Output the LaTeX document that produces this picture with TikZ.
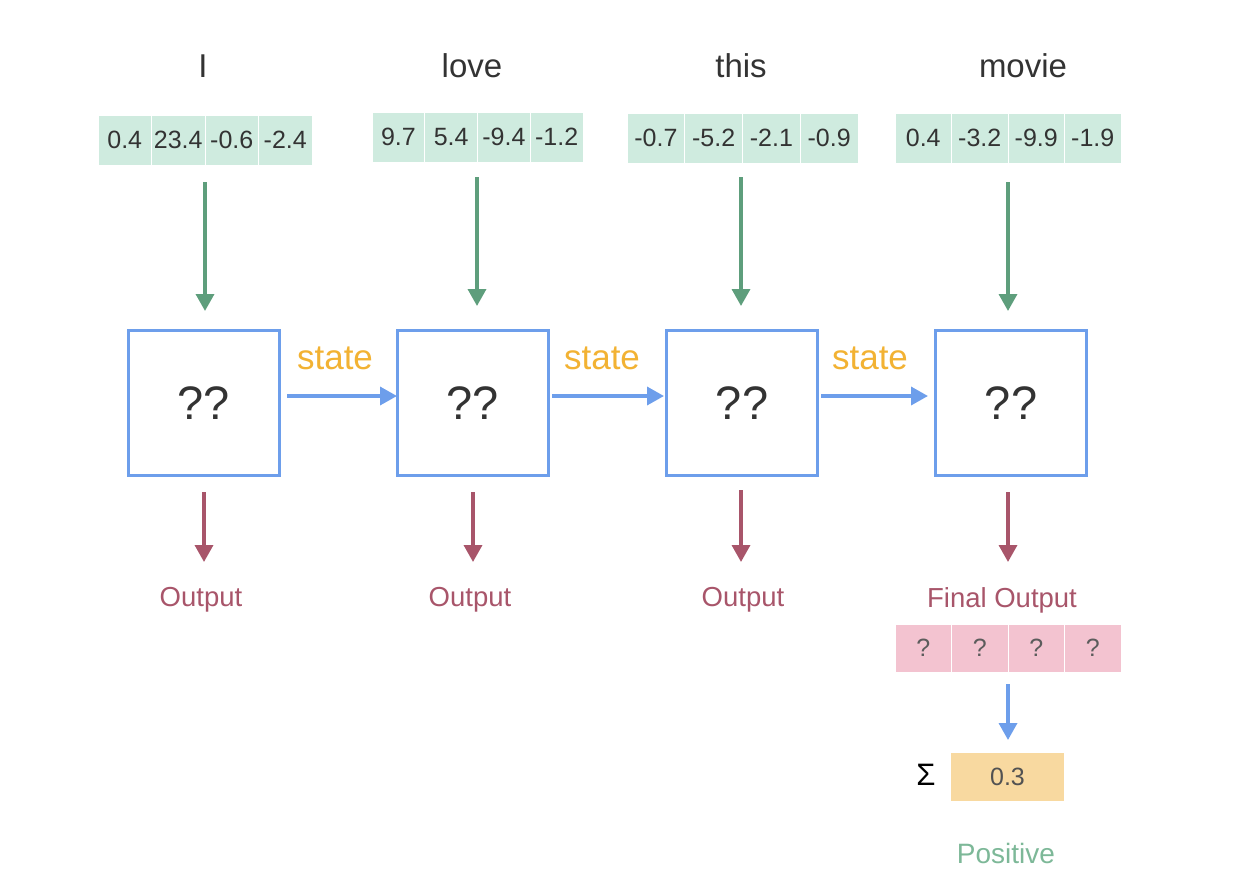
\documentclass[tikz,border=0pt]{standalone}
\usepackage{fontspec}
\setmainfont{Liberation Sans}
\usetikzlibrary{arrows.meta}
\definecolor{boxblue}{HTML}{6D9EEB}
\definecolor{arrgreen}{HTML}{5E9E7C}
\definecolor{vecgreen}{HTML}{CFEBDF}
\definecolor{stateorange}{HTML}{F2B233}
\definecolor{outred}{HTML}{A8556A}
\definecolor{vecpink}{HTML}{F3C3D0}
\definecolor{sumorange}{HTML}{F8D9A0}
\definecolor{posgreen}{HTML}{7DB898}
\definecolor{txtgrey}{HTML}{333333}
\tikzset{
  cellbox/.style={fill=vecgreen, draw=white, line width=0.8pt, minimum height=50pt, inner sep=0pt, text=txtgrey, font=\fontsize{25}{27}\selectfont},
  pinkcell/.style={fill=vecpink, draw=white, line width=0.8pt, minimum height=48pt, minimum width=56.5pt, inner sep=0pt, text=txtgrey!80, font=\fontsize{25}{27}\selectfont},
  rnnbox/.style={draw=boxblue, line width=3pt, minimum width=151pt, minimum height=145pt, inner sep=0pt, text=txtgrey, font=\fontsize{47}{50}\selectfont},
  wordlbl/.style={text=txtgrey, font=\fontsize{33}{36}\selectfont},
  statelbl/.style={text=stateorange, font=\fontsize{35}{38}\selectfont},
  outlbl/.style={text=outred, font=\fontsize{27.5}{30}\selectfont},
  inarrow/.style={draw=arrgreen, line width=3.5pt, -{Triangle[width=18pt,length=17pt]}},
  outarrow/.style={draw=outred, line width=3.5pt, -{Triangle[width=18pt,length=17pt]}},
  statearrow/.style={draw=boxblue, line width=3.5pt, -{Triangle[width=18pt,length=17pt]}},
}
\begin{document}
\begin{tikzpicture}[x=1pt,y=-1pt]
\useasboundingbox (0,0) rectangle (1241,894);
% words
\node[wordlbl] (w1) at (203,66) {I};
\node[wordlbl] (w2) at (472,66) {love};
\node[wordlbl] (w3) at (741,66) {this};
\node[wordlbl] (w4) at (1023,66) {movie};
% vectors
\foreach \v [count=\i] in {0.4,23.4,-0.6,-2.4} {
  \node[cellbox, minimum width=53.5pt] (a\i) at ({98+53.5*(\i-0.5)},140) {\v};
}
\foreach \v [count=\i] in {9.7,5.4,-9.4,-1.2} {
  \node[cellbox, minimum width=52.75pt] (b\i) at ({372+52.75*(\i-0.5)},137) {\v};
}
\foreach \v [count=\i] in {-0.7,-5.2,-2.1,-0.9} {
  \node[cellbox, minimum width=57.75pt] (c\i) at ({627+57.75*(\i-0.5)},138) {\v};
}
\foreach \v [count=\i] in {0.4,-3.2,-9.9,-1.9} {
  \node[cellbox, minimum width=56.5pt] (d\i) at ({895+56.5*(\i-0.5)},138) {\v};
}
% rnn boxes
\node[rnnbox] (r1) at (204,403) {??};
\node[rnnbox] (r2) at (473,403) {??};
\node[rnnbox] (r3) at (742,403) {??};
\node[rnnbox] (r4) at (1011,403) {??};
% input arrows
\coordinate (ia1) at (205,182); \coordinate (ib1) at (205,311);
\coordinate (ia2) at (477,177); \coordinate (ib2) at (477,306);
\coordinate (ia3) at (741,177); \coordinate (ib3) at (741,306);
\coordinate (ia4) at (1008,182); \coordinate (ib4) at (1008,311);
\foreach \i in {1,2,3,4} { \draw[inarrow] (ia\i) -- (ib\i); }
% state arrows
\coordinate (s1a) at (287,396); \coordinate (s1b) at (397,396);
\coordinate (s2a) at (552,396); \coordinate (s2b) at (664,396);
\coordinate (s3a) at (821,396); \coordinate (s3b) at (928,396);
\draw[statearrow] (s1a) -- (s1b);
\draw[statearrow] (s2a) -- (s2b);
\draw[statearrow] (s3a) -- (s3b);
\node[statelbl] (st1) at (335,358) {state};
\node[statelbl] (st2) at (602,358) {state};
\node[statelbl] (st3) at (870,358) {state};
% output arrows
\coordinate (oa1) at (204,492); \coordinate (ob1) at (204,562);
\coordinate (oa2) at (473,492); \coordinate (ob2) at (473,562);
\coordinate (oa3) at (741,490); \coordinate (ob3) at (741,562);
\coordinate (oa4) at (1008,492); \coordinate (ob4) at (1008,562);
\foreach \i in {1,2,3,4} { \draw[outarrow] (oa\i) -- (ob\i); }
\node[outlbl] (o1) at (201,600) {Output};
\node[outlbl] (o2) at (470,600) {Output};
\node[outlbl] (o3) at (743,600) {Output};
\node[outlbl, font=\fontsize{27.5}{30}\selectfont] (o4) at (1002,600) {Final Output};
% final vector
\foreach \i in {1,2,3,4} {
  \node[pinkcell] (p\i) at ({895+56.5*(\i-0.5)},648) {?};
}
\coordinate (fa) at (1008,684); \coordinate (fb) at (1008,740);
\draw[statearrow] (fa) -- (fb);
\node[fill=sumorange, minimum width=113pt, minimum height=48pt, inner sep=0pt, text=txtgrey!85, font=\fontsize{25}{27}\selectfont] (sum) at (1007.5,777) {0.3};
\node[text=black, font=\fontsize{31}{33}\selectfont] (sig) at (926,775) {Σ};
\node[text=posgreen, font=\fontsize{28}{30}\selectfont] (pos) at (1006,853) {Positive};
\end{tikzpicture}
\end{document}
